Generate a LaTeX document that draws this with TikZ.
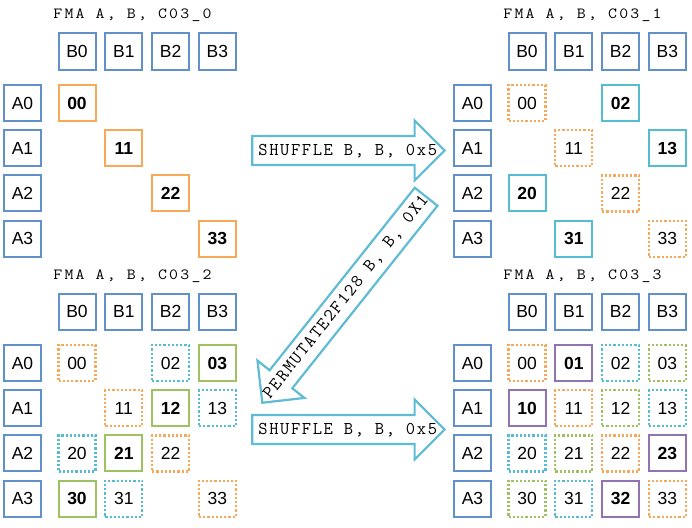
\documentclass[tikz,border=0pt]{standalone}
\usepackage{fontspec}
\setmainfont{Liberation Sans}
\newfontfamily\titlefont[LetterSpace=12.6]{Latin Modern Mono}
\newfontfamily\arrowfont[LetterSpace=9]{Latin Modern Mono}
\usetikzlibrary{shapes.arrows}
\definecolor{boxblue}{RGB}{98,145,202}
\definecolor{corange}{RGB}{247,168,88}
\definecolor{ccyan}{RGB}{85,188,210}
\definecolor{cgreen}{RGB}{158,194,98}
\definecolor{cpurple}{RGB}{145,115,180}
\definecolor{arrowcyan}{RGB}{95,188,212}
\tikzset{
  box/.style={draw, line width=2pt, minimum width=37pt, minimum height=36pt, inner sep=0pt,
    font=\fontsize{17.5}{20}\selectfont},
  abox/.style={box, draw=boxblue},
  solidcell/.style={box, draw=#1, font=\fontsize{17.5}{20}\selectfont\bfseries},
  dotcell/.style={box, draw=#1, line width=2.2pt, dotted},
  ttl/.style={font=\titlefont\fontsize{15.5}{17}\selectfont, anchor=base, inner sep=0pt},
  barrow/.style={single arrow, draw=arrowcyan, line width=2.2pt, fill=white,
    single arrow head extend=15.5pt, inner sep=0pt,
    text height=17.9pt, text depth=8.9pt},
  atext/.style={inner sep=0pt, text height=17.9pt, text depth=8.9pt,
    font=\arrowfont\fontsize{18}{20}\selectfont}
}
\begin{document}
\begin{tikzpicture}[x=1pt,y=-1pt]
\useasboundingbox (0,0) rectangle (692,527);
% panels: titles, B and A boxes
\foreach \p/\ox/\oy/\t in {0/0/0/0,1/450/0/1,2/0/260/2,3/450/260/3}{
  \node[ttl] (p\p t) at (\ox+132.5,\oy+19) {\scalebox{1.12}[1]{FMA A, B, C03\_\t}};
  \foreach \j in {0,1,2,3}{
    \node[abox] (p\p b\j) at ({\ox+77+46.8*\j},\oy+51.5) {B\j};
    \node[abox] (p\p a\j) at (\ox+22.5,{\oy+103+45.2*\j}) {A\j};
  }
}
% panel 0
\foreach \r/\c in {0/0,1/1,2/2,3/3}
  \node[solidcell=corange] (p0c\r\c) at ({77+46.8*\c},{103+45.2*\r}) {\r\c};
% panel 1
\foreach \r/\c in {0/0,1/1,2/2,3/3}
  \node[dotcell=corange] (p1c\r\c) at ({450+77+46.8*\c},{103+45.2*\r}) {\r\c};
\foreach \r/\c in {0/2,1/3,2/0,3/1}
  \node[solidcell=ccyan] (p1c\r\c) at ({450+77+46.8*\c},{103+45.2*\r}) {\r\c};
% panel 2
\foreach \r/\c in {0/0,1/1,2/2,3/3}
  \node[dotcell=corange] (p2c\r\c) at ({77+46.8*\c},{260+103+45.2*\r}) {\r\c};
\foreach \r/\c in {0/2,1/3,2/0,3/1}
  \node[dotcell=ccyan] (p2c\r\c) at ({77+46.8*\c},{260+103+45.2*\r}) {\r\c};
\foreach \r/\c in {0/3,1/2,2/1,3/0}
  \node[solidcell=cgreen] (p2c\r\c) at ({77+46.8*\c},{260+103+45.2*\r}) {\r\c};
% panel 3
\foreach \r/\c in {0/0,1/1,2/2,3/3}
  \node[dotcell=corange] (p3c\r\c) at ({450+77+46.8*\c},{260+103+45.2*\r}) {\r\c};
\foreach \r/\c in {0/2,1/3,2/0,3/1}
  \node[dotcell=ccyan] (p3c\r\c) at ({450+77+46.8*\c},{260+103+45.2*\r}) {\r\c};
\foreach \r/\c in {0/3,1/2,2/1,3/0}
  \node[dotcell=cgreen] (p3c\r\c) at ({450+77+46.8*\c},{260+103+45.2*\r}) {\r\c};
\foreach \r/\c in {0/1,1/0,2/3,3/2}
  \node[solidcell=cpurple] (p3c\r\c) at ({450+77+46.8*\c},{260+103+45.2*\r}) {\r\c};
% block arrows
\node[barrow, minimum height=192.4pt, anchor=tail] (shuf1) at (251.1,150.5) {};
\node[atext] (shuf1t) at (347.7,150.5) {SHUFFLE B, B, 0x5};
\node[barrow, minimum height=192.4pt, anchor=tail] (shuf2) at (251.1,429.5) {};
\node[atext] (shuf2t) at (347.7,429.5) {SHUFFLE B, B, 0x5};
\node[barrow, minimum height=263.2pt, rotate=51.5, shape border rotate=180, anchor=tail] (perm) at (426.8,195.9) {};
\node[atext, rotate=51.5] (permt) at (346,297) {PERMUTATE2F128 B, B, 0X1};
\end{tikzpicture}
\end{document}
